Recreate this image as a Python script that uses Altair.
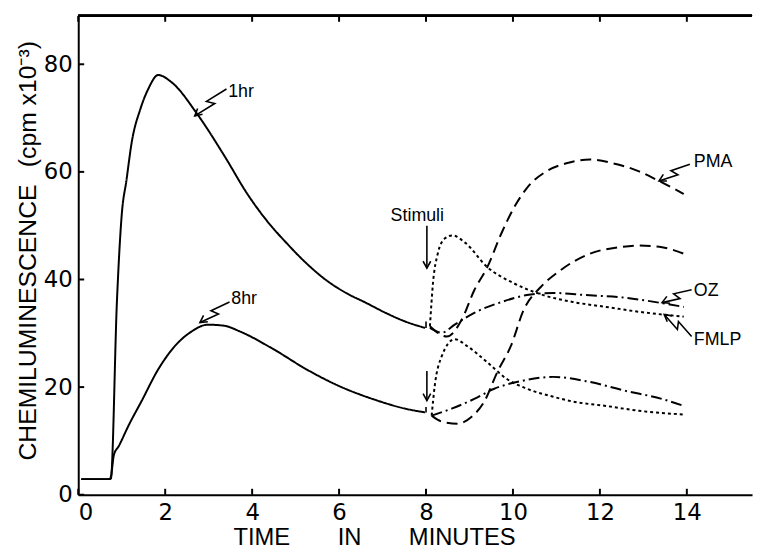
import math
import altair as alt
import pandas as pd

XMAX, YMAX = 15.5, 89.0
W, H = 681, 484

X_TICKS = [0, 2, 4, 6, 8, 10, 12, 14]
Y_TICKS = [0, 20, 40, 60, 80]

# resting 1hr cells
T_1HR = [0.07, 0.72, 0.75, 0.89, 1.0, 1.11, 1.23, 1.43, 1.61, 1.84, 2.14, 2.75, 3.36, 3.89,
         4.34, 4.80, 5.25, 5.70, 6.16, 6.61, 7.07, 7.52, 7.98]
Y_1HR = [2.9, 2.9, 3.0, 36.0, 52.0, 58.5, 65.5, 71.7, 75.4, 78.0, 76.7, 70.6, 63.0, 55.9,
         50.9, 46.7, 43.0, 39.9, 37.5, 35.7, 33.8, 32.2, 31.0]
# resting 8hr cells
T_8HR = [0.07, 0.72, 0.75, 0.82, 0.93, 1.16, 1.45, 1.84, 2.22, 2.6, 2.98, 3.36, 3.73, 4.5,
         5.25, 6.0, 6.77, 7.52, 7.98]
Y_8HR = [2.9, 2.9, 3.3, 7.4, 9.0, 12.9, 17.3, 23.3, 27.6, 30.3, 31.6, 31.4, 30.3, 27.0,
         23.3, 20.2, 17.8, 16.0, 15.3]

# after stimuli, 1hr cells
T_FMLP_1 = [8.09, 8.16, 8.27, 8.43, 8.61, 8.89, 9.41, 10.02, 10.7, 11.39, 12.14, 12.9, 13.43, 13.93]
Y_FMLP_1 = [31.3, 39.3, 44.8, 47.6, 48.2, 46.9, 42.3, 39.3, 37.1, 35.8, 34.9, 34.0, 33.5, 33.1]
T_OZ_1 = [8.09, 8.36, 8.66, 9.11, 9.73, 10.32, 10.93, 11.68, 12.59, 13.43, 13.93]
Y_OZ_1 = [31.0, 30.1, 31.6, 33.8, 35.8, 37.1, 37.5, 37.1, 36.6, 35.6, 34.9]
T_PMA_1 = [8.09, 8.48, 8.82, 9.11, 9.41, 9.73, 10.02, 10.32, 10.77, 11.23, 11.77, 12.3, 12.9, 13.36, 13.93]
Y_PMA_1 = [31.3, 29.4, 32.5, 38.0, 42.3, 48.5, 53.3, 57.0, 60.1, 61.6, 62.3, 61.6, 60.1, 58.3, 55.9]

# after stimuli, 8hr cells
T_FMLP_8 = [8.13, 8.2, 8.36, 8.66, 8.95, 9.41, 9.86, 10.32, 10.93, 11.39, 12.14, 12.9, 13.93]
Y_FMLP_8 = [14.7, 20.2, 25.7, 28.9, 27.6, 24.6, 21.5, 19.7, 18.2, 17.3, 16.5, 15.6, 14.9]
T_OZ_8 = [8.13, 8.59, 9.11, 9.57, 10.18, 10.93, 11.68, 12.59, 13.43, 13.93]
Y_OZ_8 = [14.7, 16.0, 17.8, 19.7, 21.1, 21.9, 21.1, 19.3, 17.8, 16.5]
T_PMA_8 = [8.13, 8.36, 8.73, 9.05, 9.34, 9.64, 9.95, 10.25, 10.64, 11.09, 11.77, 12.45, 12.9, 13.43, 13.93]
Y_PMA_8 = [14.7, 13.6, 13.2, 14.5, 17.3, 22.8, 27.6, 34.4, 38.6, 41.7, 44.8, 46.0, 46.3, 46.0, 44.8]

# labels with lightning arrows
ANN_LABELS = ["1hr", "8hr", "PMA", "OZ", "FMLP"]
ANN_TEXT_X = [3.45, 3.52, 14.16, 14.16, 14.16]
ANN_TEXT_Y = [74.8, 36.4, 61.9, 37.9, 28.7]
ANN_TAIL_X = [3.41, 3.48, 14.07, 14.11, 14.11]
ANN_TAIL_Y = [75.4, 35.8, 61.4, 38.1, 29.4]
ANN_TIP_X = [2.68, 2.80, 13.36, 13.43, 13.48]
ANN_TIP_Y = [70.4, 32.0, 58.3, 35.7, 33.5]

STIM_LABEL = "Stimuli"
STIM_TEXT_X, STIM_TEXT_Y = 7.8, 51.7
STIM_X = 8.02
STIM_TAIL_Y = [50.0, 23.0]
STIM_TIP_Y = [42.1, 17.5]

# short vertical marks at the end of the resting traces
CORNER_X = [8.0, 8.0]
CORNER_Y1 = [31.0, 15.3]
CORNER_Y2 = [32.2, 16.3]

# ---------------------------------------------------------------- tables
rows = []
def add(series, stim, ts, ys):
    for i, (t, y) in enumerate(zip(ts, ys)):
        rows.append({"t": t, "y": y, "series": series, "stim": stim, "ord": i})

add("1hr", "rest", T_1HR, Y_1HR)
add("8hr", "rest", T_8HR, Y_8HR)
add("FMLP1", "FMLP", T_FMLP_1, Y_FMLP_1)
add("FMLP8", "FMLP", T_FMLP_8, Y_FMLP_8)
add("OZ1", "OZ", T_OZ_1, Y_OZ_1)
add("OZ8", "OZ", T_OZ_8, Y_OZ_8)
add("PMA1", "PMA", T_PMA_1, Y_PMA_1)
add("PMA8", "PMA", T_PMA_8, Y_PMA_8)
curves = pd.DataFrame(rows)

sx, sy = W / XMAX, H / YMAX
def to_px(x, y):
    return x * sx, -y * sy
def to_data(px, py):
    return px / sx, -py / sy

arows = []
def poly(name, pts):
    for i, (px, py) in enumerate(pts):
        x, y = to_data(px, py)
        arows.append({"t": x, "y": y, "g": name, "ord": i})

def head(name, S, T):
    dx, dy = T[0] - S[0], T[1] - S[1]
    L = math.hypot(dx, dy)
    ux, uy = dx / L, dy / L
    pts = []
    for a in (0.5, -0.5):
        rx = ux * math.cos(a) - uy * math.sin(a)
        ry = ux * math.sin(a) + uy * math.cos(a)
        pts.append((T[0] - 8 * rx, T[1] - 8 * ry))
    poly(name + "_h", [pts[0], T, pts[1]])

for k, lab in enumerate(ANN_LABELS):
    S = to_px(ANN_TAIL_X[k], ANN_TAIL_Y[k])
    T = to_px(ANN_TIP_X[k], ANN_TIP_Y[k])
    dx, dy = T[0] - S[0], T[1] - S[1]
    L = math.hypot(dx, dy)
    nx, ny = -dy / L, dx / L
    P1 = (S[0] + 0.56 * dx + 3.5 * nx, S[1] + 0.56 * dy + 3.5 * ny)
    P2 = (S[0] + 0.44 * dx - 3.5 * nx, S[1] + 0.44 * dy - 3.5 * ny)
    poly(lab, [S, P1, P2, T])
    head(lab, S, T)

for k in range(len(STIM_TAIL_Y)):
    S = to_px(STIM_X, STIM_TAIL_Y[k])
    T = to_px(STIM_X, STIM_TIP_Y[k])
    poly("stim%d" % k, [S, T])
    head("stim%d" % k, S, T)

for k in range(len(CORNER_X)):
    poly("corner%d" % k, [to_px(CORNER_X[k], CORNER_Y1[k]), to_px(CORNER_X[k], CORNER_Y2[k])])

arrows = pd.DataFrame(arows)

texts = pd.DataFrame({"t": ANN_TEXT_X, "y": ANN_TEXT_Y, "label": ANN_LABELS})
stim_text = pd.DataFrame({"t": [STIM_TEXT_X], "y": [STIM_TEXT_Y], "label": [STIM_LABEL]})

xticks = pd.DataFrame({"t": X_TICKS})
yticks = pd.DataFrame({"y": Y_TICKS})

xs = alt.Scale(domain=[0, XMAX], nice=False, zero=False)
ys = alt.Scale(domain=[0, YMAX], nice=False, zero=False)

ytitle = "CHEMILUMINESCENCE\u2002\u2009(cpm x10\u207b\u00b3)"
xtitle = "TIME\u2003\u2003IN\u2003\u2003MINUTES"

X_AX = alt.Axis(
    values=X_TICKS, ticks=False, tickSize=0, grid=False, labelPadding=7,
    labelFont="DejaVu Sans", labelFontSize=23, labelColor="black",
    domainColor="black", domainWidth=2,
    title=xtitle, titleFont="Liberation Sans", titleFontSize=24,
    titleFontWeight="normal", titleColor="black",
    titleX=299, titleY=43, titleAlign="center", titleBaseline="middle")
Y_AX = alt.Axis(
    values=Y_TICKS, ticks=False, tickSize=0, grid=False, labelPadding=6,
    labelFont="DejaVu Sans", labelFontSize=23, labelColor="black",
    domainColor="black", domainWidth=2,
    title=ytitle, titleFont="Liberation Sans", titleFontSize=25,
    titleFontWeight="normal", titleColor="black", titleAngle=270,
    titleX=-51, titleY=237, titleAlign="center", titleBaseline="middle")

def X():
    return alt.X("t:Q", scale=xs, axis=X_AX)
def Y():
    return alt.Y("y:Q", scale=ys, axis=Y_AX)

base_lines = alt.Chart(curves).mark_line(
    interpolate="monotone", color="black", strokeWidth=2, strokeCap="butt"
).encode(
    x=X(), y=Y(),
    strokeDash=alt.StrokeDash("stim:N", scale=alt.Scale(
        domain=["rest", "PMA", "FMLP", "OZ"],
        range=[[1, 0], [11, 6], [3, 3], [11, 4, 2, 4]]), legend=None),
    detail="series:N",
    order="ord:Q",
)

arrow_lines = alt.Chart(arrows).mark_line(color="black", strokeWidth=1.6).encode(
    x=X(), y=Y(), detail="g:N", order="ord:Q",
)

labels = alt.Chart(texts).mark_text(
    align="left", baseline="middle", font="Liberation Sans", fontSize=18, color="black"
).encode(x=X(), y=Y(), text="label:N")

stim_lab = alt.Chart(stim_text).mark_text(
    align="center", baseline="middle", font="Liberation Sans", fontSize=18, color="black"
).encode(x=X(), y=Y(), text="label:N")

bottom_ticks = alt.Chart(xticks).mark_rule(color="black", strokeWidth=2).encode(
    x=X(), y=alt.value(H), y2=alt.value(H - 6))
top_ticks = alt.Chart(xticks).mark_rule(color="black", strokeWidth=2).encode(
    x=X(), y=alt.value(0), y2=alt.value(6))
left_ticks = alt.Chart(yticks).mark_rule(color="black", strokeWidth=2).encode(
    y=Y(), x=alt.value(0), x2=alt.value(6))
top_border = alt.Chart(xticks).mark_rule(color="black", strokeWidth=2).encode(
    x=alt.value(0), x2=alt.value(W), y=alt.value(0))

chart = alt.layer(
    base_lines, arrow_lines, labels, stim_lab,
    bottom_ticks, top_ticks, left_ticks, top_border,
).properties(
    width=W, height=H,
    autosize=alt.AutoSizeParams(type="none"),
    padding={"left": 71, "top": 5, "right": 4, "bottom": 58},
    background="white",
).configure_view(stroke=None)

chart.save("out.html", embed_options={"renderer": "svg", "actions": False})
